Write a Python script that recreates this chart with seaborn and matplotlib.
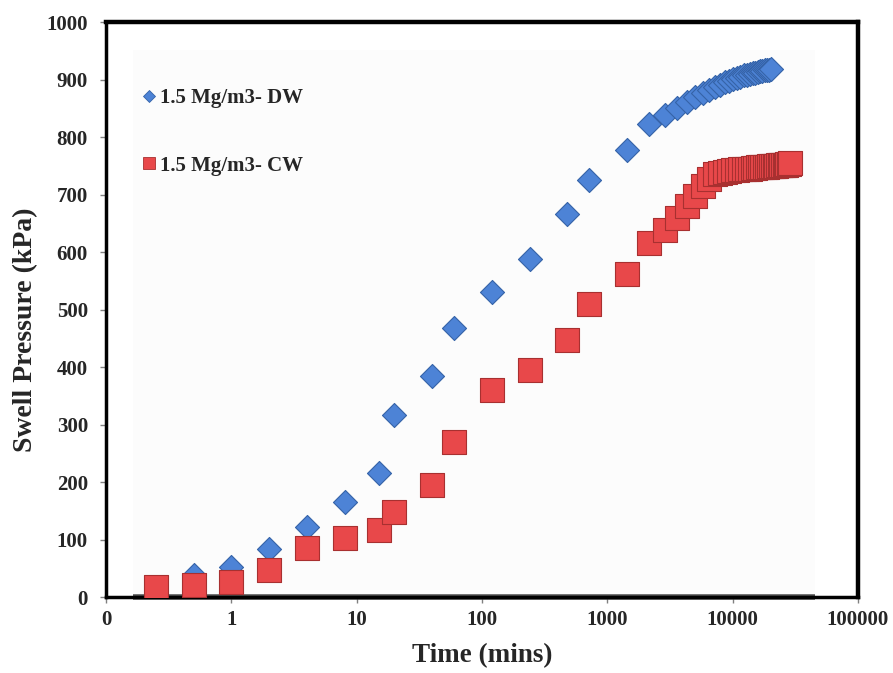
import matplotlib
matplotlib.use("Agg")
import matplotlib.pyplot as plt
from matplotlib.lines import Line2D
from matplotlib.patches import Rectangle
from matplotlib.ticker import FixedLocator, FixedFormatter, NullLocator
import numpy as np
import pandas as pd
import seaborn as sns

# Swell pressure readings, density 1.5 Mg/m3, distilled water (DW)
dw_time = [0.5, 1, 2, 4, 8, 15, 20, 40, 60, 120, 240, 480, 720, 1440,
           2160, 2880, 3600, 4320, 5040, 5760, 6480, 7200, 7920, 8640,
           9360, 10080, 10800, 11520, 12240, 12960, 13680, 14400, 15120,
           15840, 16560, 17280, 18000, 18720, 19440, 20160]
dw_pressure = [38, 52, 83, 122, 165, 216, 317, 384, 468, 530, 587, 666, 725, 778,
               822, 838, 851, 861, 869, 876, 882, 887, 891, 895,
               898, 901, 903, 905, 907, 908, 910, 911, 912,
               913, 914, 915, 916, 917, 917, 918]

# Swell pressure readings, density 1.5 Mg/m3, contaminated water (CW)
cw_time = [0.25, 0.5, 1, 2, 4, 8, 15, 20, 40, 60, 120, 240, 480, 720, 1440,
           2160, 2880, 3600, 4320, 5040, 5760, 6480, 7200, 7920, 8640,
           9360, 10080, 10800, 11520, 12240, 12960, 13680, 14400, 15120,
           15840, 16560, 17280, 18000, 18720, 19440, 20160, 20880, 21600,
           22320, 23040, 23760, 24480, 25200, 25920, 26640, 27360, 28080, 28800]
cw_pressure = [17, 21, 26, 47, 85, 103, 117, 148, 195, 270, 360, 395, 447, 510, 562,
               616, 638, 659, 680, 698, 714, 727, 735, 738, 740,
               741, 742, 743, 744, 744, 745, 745, 746, 746,
               747, 747, 748, 748, 748, 749, 749, 750, 750,
               750, 751, 751, 751, 752, 752, 752, 753, 753, 754]

series_labels = ["1.5 Mg/m3- DW", "1.5 Mg/m3- CW"]
x_ticks = [0.1, 1, 10, 100, 1000, 10000, 100000]
x_tick_labels = ["0", "1", "10", "100", "1000", "10000", "100000"]
y_ticks = [0, 100, 200, 300, 400, 500, 600, 700, 800, 900, 1000]

dw = pd.DataFrame({"time": dw_time, "pressure": dw_pressure})
cw = pd.DataFrame({"time": cw_time, "pressure": cw_pressure})

sns.set_theme(style="white")
plt.rcParams["font.family"] = ["Liberation Serif", "DejaVu Serif"]
plt.rcParams["font.weight"] = "bold"

BLUE = "#4d83d6"
BLUE_EDGE = "#3563a8"
RED = "#e8484a"
RED_EDGE = "#a83030"

fig = plt.figure(figsize=(8.93, 6.73), dpi=100)
ax = fig.add_axes([0.1187, 0.1129, 0.8421, 0.8544])

ax.set_xscale("log")
ax.set_xlim(0.1, 100000)
ax.set_ylim(0, 1000)

# faint plot-area fill and its base line
ax.add_patch(Rectangle((0.036, 0.0), 0.907, 0.951, transform=ax.transAxes,
                       facecolor="#fcfcfc", edgecolor="none", zorder=0))
ax.plot([0.036, 0.943], [0.0, 0.0], transform=ax.transAxes, color="#505050",
        lw=4, solid_capstyle="butt", zorder=1, clip_on=False)

sns.scatterplot(data=dw, x="time", y="pressure", ax=ax, marker="D", s=150,
                color=BLUE, edgecolor=BLUE_EDGE, linewidth=0.8, zorder=3,
                legend=False)
sns.scatterplot(data=cw, x="time", y="pressure", ax=ax, marker="s", s=300,
                color=RED, edgecolor=RED_EDGE, linewidth=0.8, zorder=4,
                legend=False)

ax.xaxis.set_major_locator(FixedLocator(x_ticks))
ax.xaxis.set_major_formatter(FixedFormatter(x_tick_labels))
ax.xaxis.set_minor_locator(NullLocator())
ax.set_yticks(y_ticks)

ax.tick_params(axis="x", which="major", direction="out", length=4, width=1,
               color="#808080", labelsize=15, pad=5, bottom=True)
ax.tick_params(axis="y", which="major", direction="out", length=4, width=1,
               color="#808080", labelsize=15, pad=9, left=True)
for lab in ax.get_xticklabels() + ax.get_yticklabels():
    lab.set_fontweight("bold")

ax.set_xlabel("Time (mins)", fontsize=19.5, fontweight="bold", labelpad=10)
ax.set_ylabel("Swell Pressure (kPa)", fontsize=20, fontweight="bold", labelpad=6)
ax.yaxis.label.set_y(0.464)

for side in ["top", "right"]:
    ax.spines[side].set_linewidth(3.2)
    ax.spines[side].set_color("black")
for side in ["left", "bottom"]:
    ax.spines[side].set_linewidth(2.5)
    ax.spines[side].set_color("black")
ax.grid(False)

handles = [
    Line2D([], [], marker="D", linestyle="none", markersize=6,
           markerfacecolor=BLUE, markeredgecolor=BLUE_EDGE, markeredgewidth=0.6),
    Line2D([], [], marker="s", linestyle="none", markersize=8,
           markerfacecolor=RED, markeredgecolor=RED_EDGE, markeredgewidth=0.6),
]
ax.legend(handles, series_labels, loc="upper left", bbox_to_anchor=(0.035, 0.9),
          frameon=False, prop={"family": "Liberation Serif", "weight": "bold", "size": 15},
          labelspacing=2.3, handlelength=0.8, handletextpad=0.15, borderaxespad=0)

fig.savefig("out.png", dpi=100)
